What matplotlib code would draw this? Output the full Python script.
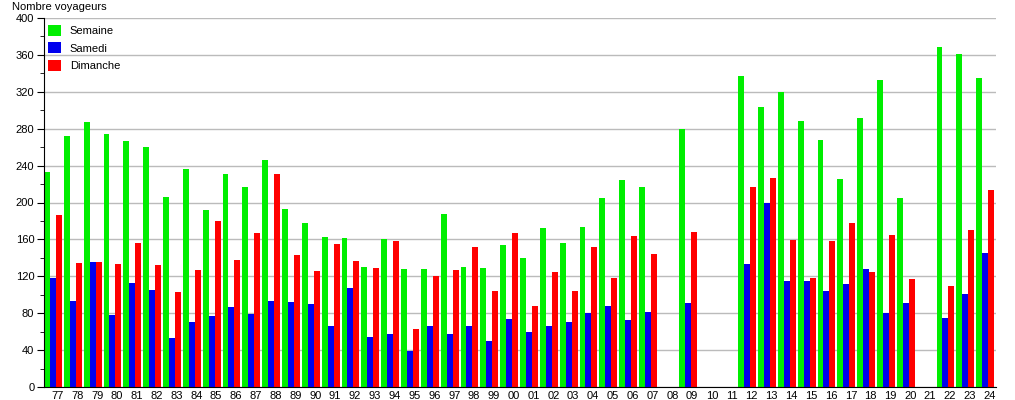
import numpy as np
import matplotlib
matplotlib.use("Agg")
import matplotlib.pyplot as plt
from matplotlib.ticker import MultipleLocator

plt.rcParams['font.family'] = ['Liberation Sans', 'DejaVu Sans']

# Années (deux chiffres) et nombre de voyageurs
annees = ["77", "78", "79", "80", "81", "82", "83", "84", "85", "86", "87", "88",
          "89", "90", "91", "92", "93", "94", "95", "96", "97", "98", "99", "00",
          "01", "02", "03", "04", "05", "06", "07", "08", "09", "10", "11", "12",
          "13", "14", "15", "16", "17", "18", "19", "20", "21", "22", "23", "24"]

nan = np.nan
semaine = [233, 272, 287, 274, 267, 260, 206, 236, 192, 231, 217, 246,
           193, 178, 163, 161, 130, 160, 128, 128, 188, 130, 129, 154,
           140, 172, 156, 173, 205, 224, 217, nan, 280, nan, nan, 337,
           304, 320, 288, 268, 225, 292, 333, 205, nan, 369, 361, 335]
samedi = [118, 93, 135, 78, 113, 105, 53, 71, 77, 87, 79, 93,
          92, 90, 66, 107, 54, 57, 39, 66, 57, 66, 50, 74,
          60, 66, 70, 80, 88, 73, 81, nan, 91, nan, nan, 133,
          200, 115, 115, 104, 112, 128, 80, 91, nan, 75, 101, 145]
dimanche = [186, 134, 136, 133, 156, 132, 103, 127, 180, 138, 167, 231,
            143, 126, 155, 137, 129, 158, 63, 120, 127, 152, 104, 167,
            88, 125, 104, 152, 118, 164, 144, nan, 168, nan, nan, 217,
            227, 159, 118, 158, 178, 125, 165, 117, nan, 110, 170, 214]

series = [("Semaine", semaine, "#00ee00"),
          ("Samedi", samedi, "#0000ee"),
          ("Dimanche", dimanche, "#ff0000")]

fig = plt.figure(figsize=(10.15, 4.0), dpi=100)
ax = fig.add_axes([44 / 1015, 13 / 400, 952 / 1015, 369 / 400])

x = np.arange(len(annees))
w = 0.3
for k, (nom, vals, col) in enumerate(series):
    ax.bar(x + k * w, vals, width=w, align="edge", color=col, label=nom,
           linewidth=0, zorder=2)

ax.set_xlim(0, len(annees))
ax.set_ylim(0, 400)
ax.set_xticks(x + 0.68)
ax.set_xticklabels(annees, fontsize=8)
ax.tick_params(axis="x", length=0, pad=3)

ax.yaxis.set_major_locator(MultipleLocator(40))
ax.yaxis.set_minor_locator(MultipleLocator(20))
ax.tick_params(axis="y", which="major", length=5, labelsize=8, pad=2)
ax.tick_params(axis="y", which="minor", length=3)
ax.grid(axis="y", color="#bbbbbb", linewidth=1, zorder=0)

for s in ["top", "right"]:
    ax.spines[s].set_visible(False)

fig.text(12 / 1015, 1 - 7 / 400, "Nombre voyageurs", fontsize=8, va="center")

leg = ax.legend(loc="upper left", bbox_to_anchor=(0, 0.992), frameon=False,
                fontsize=8, handlelength=1.17, handleheight=1.17,
                handletextpad=0.8, labelspacing=0.55, borderpad=0.35,
                borderaxespad=0.0)

fig.savefig("out.png", dpi=100)
